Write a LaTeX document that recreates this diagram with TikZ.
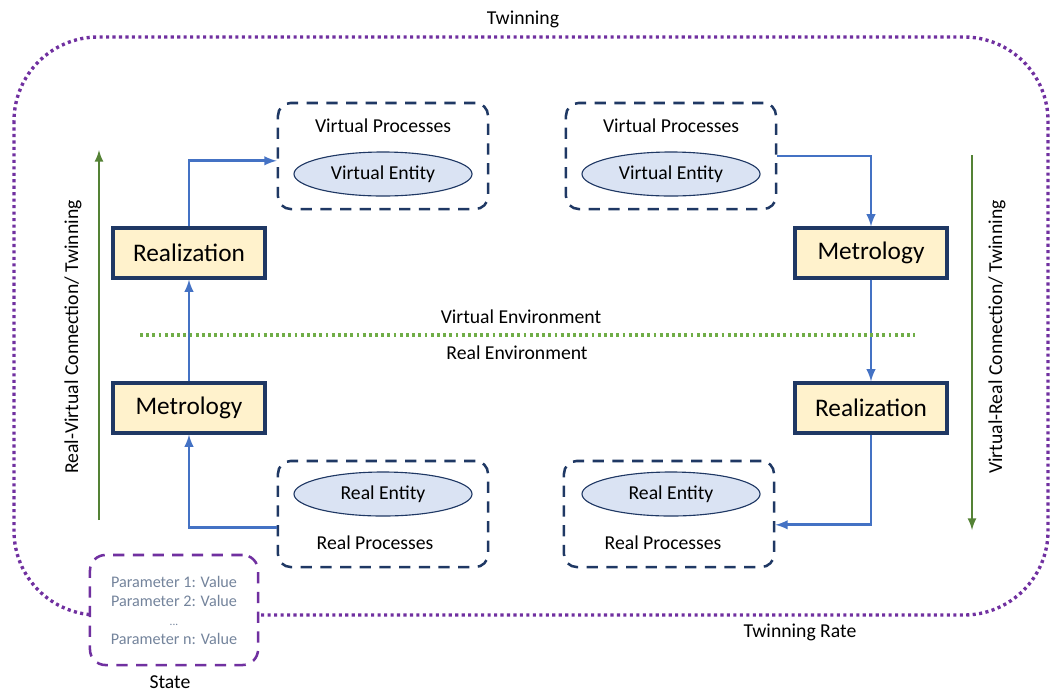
\documentclass[tikz,border=0pt]{standalone}
\usepackage{fontspec}
\setmainfont{Carlito}
\usetikzlibrary{shapes}

\definecolor{navy}{HTML}{1F3864}
\definecolor{stagefill}{HTML}{FFF2CC}
\definecolor{entityfill}{HTML}{DAE3F3}
\definecolor{flowblue}{HTML}{4472C4}
\definecolor{linkgreen}{HTML}{548235}
\definecolor{envgreen}{HTML}{70AD47}
\definecolor{twinpurple}{HTML}{7030A0}
\definecolor{paramgrey}{HTML}{74849C}

\begin{document}
\begin{tikzpicture}[x=0.025cm, y=-0.025cm, >=latex]
        \tikzstyle{every node}=[font=\fontsize{14}{16}\selectfont]
        \tikzstyle{stage}=[draw=navy, line width=2.2pt, fill=stagefill, minimum width=3.8cm, minimum height=1.25cm, font=\fontsize{18}{20}\selectfont]
        \tikzstyle{procs}=[draw=navy, line width=1.8pt, dash pattern=on 8pt off 6pt, rounded corners=9pt, minimum width=5.25cm, minimum height=2.65cm]
        \tikzstyle{entity}=[ellipse, draw=navy, line width=0.8pt, fill=entityfill, minimum width=4.45cm, minimum height=1.1cm, inner sep=0pt]
        \tikzstyle{statebox}=[draw=twinpurple, line width=1.8pt, dash pattern=on 8pt off 6pt, rounded corners=11pt, fill=white, minimum width=4.2cm, minimum height=2.75cm, align=center, text=paramgrey, font=\fontsize{11.5}{13.5}\selectfont]
        \tikzstyle{flow}=[->, draw=flowblue, line width=2pt]
        \tikzstyle{link}=[->, draw=linkgreen, line width=1.8pt]
        \useasboundingbox (0,0) rectangle (1051,693);
        % twinning loop
        \draw [twinpurple, line width=2.4pt, dash pattern=on 2.2pt off 2.4pt, rounded corners=2.1cm] (14,37) rectangle (1048,615);
        \node (twin) at (523,19) {Twinning};
        \node (rate) at (800,632) {Twinning Rate};
        % processes and entities
        \node [procs] (vp1) at (383,156) {};
        \node (vp1t) at (383,126) {Virtual Processes};
        \node [entity] (ve1) at (383,174) {Virtual Entity};
        \node [procs] (vp2) at (671,156) {};
        \node (vp2t) at (671,126) {Virtual Processes};
        \node [entity] (ve2) at (671,174) {Virtual Entity};
        \node [procs] (rp1) at (383,514) {};
        \node [entity] (re1) at (383,494) {Real Entity};
        \node (rp1t) at (375,543) {Real Processes};
        \node [procs] (rp2) at (669,514) {};
        \node [entity] (re2) at (671,494) {Real Entity};
        \node (rp2t) at (663,543) {Real Processes};
        % stages
        \node [stage] (real1) at (189,253) {Realization};
        \node [stage] (met1) at (189,408) {Metrology};
        \node [stage] (met2) at (871,253) {Metrology};
        \node [stage] (real2) at (871,408) {Realization};
        \draw [flow] ([yshift=-0.33cm]rp1.west) -| (met1.south);
        \draw [flow] (met1.north) -- (real1.south);
        \draw [flow] (real1.north) |- ([yshift=-0.12cm]vp1.west);
        \draw [flow] (vp2.east) -| (met2.north);
        \draw [flow] (met2.south) -- (real2.north);
        \draw [flow] (real2.south) |- ([yshift=-0.27cm]rp2.east);
        % environments
        \coordinate (envL) at (140,335);
        \coordinate (envR) at (915,335);
        \draw [envgreen, line width=2.2pt, dash pattern=on 2pt off 2.4pt] (envL) -- (envR);
        \node (venv) at (521,317) {Virtual Environment};
        \node (renv) at (517,353) {Real Environment};
        % connections
        \coordinate (g1a) at (99,520);
        \coordinate (g1b) at (99,150);
        \coordinate (g2a) at (972,155);
        \coordinate (g2b) at (972,530);
        \draw [link] (g1a) -- (g1b);
        \draw [link] (g2a) -- (g2b);
        \node [rotate=90] (rv) at (73,337) {Real-Virtual Connection/ Twinning};
        \node [rotate=90] (vr) at (997,337) {Virtual-Real Connection/ Twinning};
        % state
        \node [statebox] (state) at (174,610) {Parameter 1: Value\\Parameter 2: Value\\{\fontsize{8}{10}\selectfont ...}\\Parameter n: Value};
        \node [inner sep=0pt] (statet) at (170,682) {State};
\end{tikzpicture}
\end{document}
